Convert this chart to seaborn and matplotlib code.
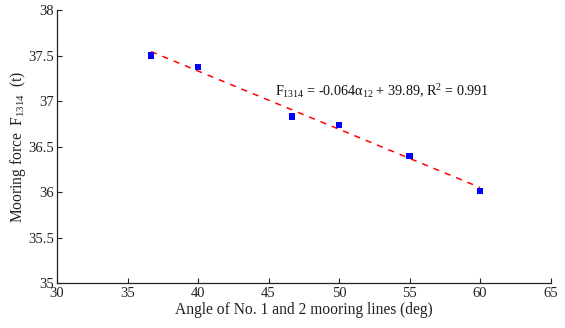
import matplotlib
matplotlib.use("Agg")
import matplotlib.pyplot as plt
import numpy as np
import pandas as pd
import seaborn as sns

# Mooring angle vs. mooring force on lines 13/14
angle_deg = [36.67, 40.0, 46.67, 50.0, 55.0, 60.0]
force_t = [37.50, 37.37, 36.83, 36.74, 36.40, 36.01]

# Linear fit reported on the chart
slope = -0.064
intercept = 39.89
r_squared = 0.991

x_ticks = [30, 35, 40, 45, 50, 55, 60, 65]
y_ticks = [35, 35.5, 36, 36.5, 37, 37.5, 38]
y_ticklabels = ["35", "35.5", "36", "36.5", "37", "37.5", "38"]

sns.set_theme(style="white")
plt.rcParams["font.family"] = ["Liberation Serif", "DejaVu Serif"]
plt.rcParams["mathtext.fontset"] = "custom"
plt.rcParams["mathtext.rm"] = "Liberation Serif"
plt.rcParams["mathtext.it"] = "Liberation Serif:italic"
plt.rcParams["mathtext.default"] = "regular"

fig = plt.figure(figsize=(5.65, 3.28), dpi=100)
ax = fig.add_axes([0.1009, 0.137, 0.8735, 0.8325])

pts = pd.DataFrame({"angle": angle_deg, "force": force_t})
fit_x = np.array([min(angle_deg), max(angle_deg)])
fit = pd.DataFrame({"angle": fit_x, "force": slope * fit_x + intercept})

sns.lineplot(data=fit, x="angle", y="force", ax=ax, color="#ff0000",
             linestyle=(0, (4, 4)), linewidth=1.1)
sns.scatterplot(data=pts, x="angle", y="force", ax=ax, marker="s",
                color="#0000ff", s=20, edgecolor="none", zorder=3)

ax.set_xlim(30, 65)
ax.set_ylim(35, 38)
ax.set_xticks(x_ticks)
ax.set_yticks(y_ticks)
ax.set_yticklabels(y_ticklabels)

for side in ("top", "right"):
    ax.spines[side].set_visible(False)
for side in ("left", "bottom"):
    ax.spines[side].set_color("#222222")
    ax.spines[side].set_linewidth(0.9)

ax.tick_params(axis="both", direction="in", length=3.5, width=0.8,
               colors="#222222", labelsize=10.5, pad=2,
               left=True, bottom=True)
ax.tick_params(axis="x", pad=3)

ax.set_xlabel("Angle of No. 1 and 2 mooring lines (deg)", fontsize=11.2,
              color="#222222", labelpad=1)
ax.set_ylabel(r"Mooring force  $\mathregular{F}_{1314}$  (t)", fontsize=11.2,
              color="#222222", labelpad=0.5)

ax.text(45.45, 37.06,
        rf"$F_{{1314}}$ = {slope:.3f}$\alpha_{{12}}$ + {intercept:.2f}, "
        rf"R$^2$ = {r_squared:.3f}",
        fontsize=10.2, color="#111111")

fig.savefig("out.png", dpi=100)
